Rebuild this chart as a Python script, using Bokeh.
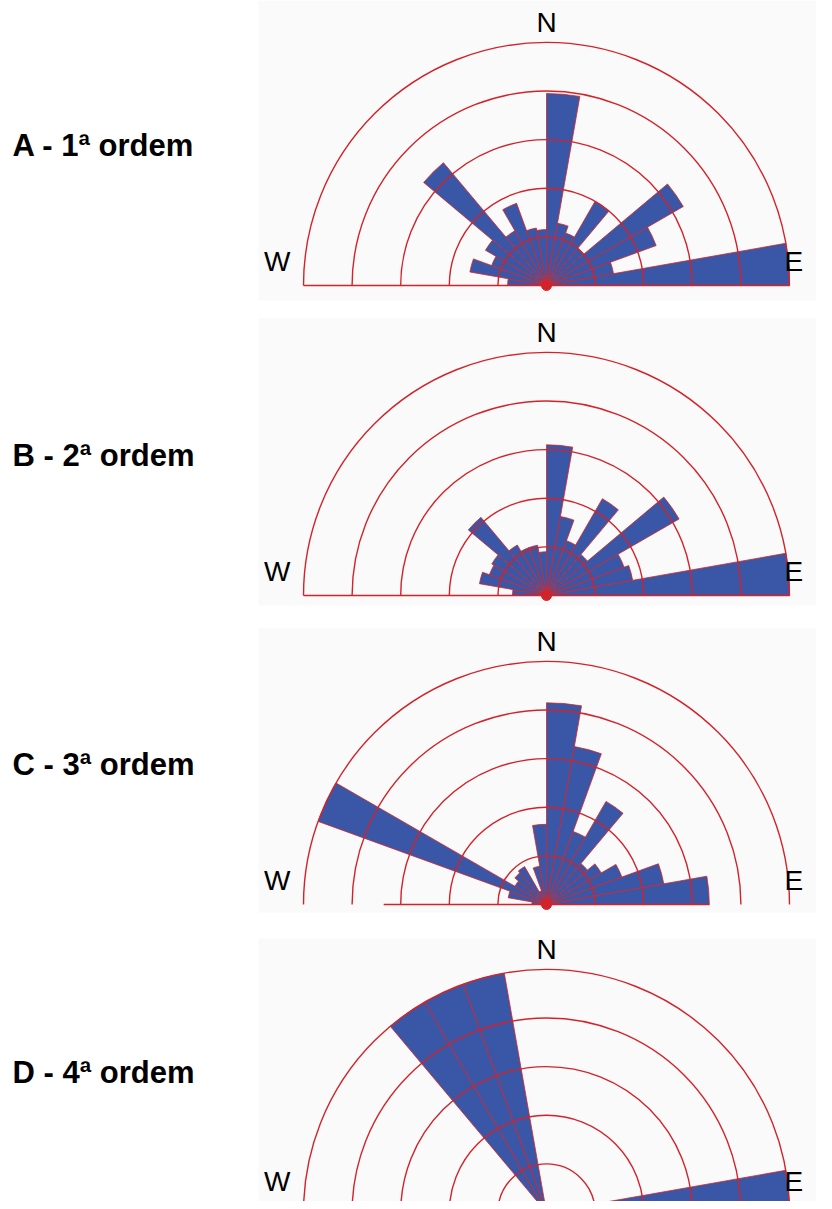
import math
from bokeh.plotting import figure
from bokeh.models import ColumnDataSource, Range1d
from bokeh.core.properties import value
from bokeh.embed import file_html
from bokeh.resources import INLINE

# ---------------- data ----------------
# azimuth bin starts (degrees clockwise from N), 10-degree bins, W -> N -> E
bin_start = [270, 280, 290, 300, 310, 320, 330, 340, 350, 0, 10, 20, 30, 40, 50, 60, 70, 80]
bin_width = 10

panel_titles = ["A - 1ª ordem", "B - 2ª ordem", "C - 3ª ordem", "D - 4ª ordem"]

freq_a = [0.8, 1.6, 1.2, 1.45, 3.3, 1.3, 1.8, 1.2, 1.15, 3.95, 1.3, 1.15, 2.0, 1.0, 3.25, 2.4, 1.4, 5.0]
freq_b = [0.7, 1.4, 1.25, 1.3, 2.1, 1.2, 1.05, 1.05, 0.9, 3.1, 1.65, 1.2, 2.3, 1.1, 3.15, 1.7, 1.8, 5.0]
freq_c = [0.3, 0.8, 5.0, 0.75, 0.85, 0.9, 0.3, 0.8, 1.65, 4.15, 3.3, 1.6, 2.45, 1.1, 1.3, 1.65, 2.45, 3.35]
freq_d = [0, 0, 0, 0, 0, 5.0, 5.0, 5.0, 0, 0, 0, 0, 0, 0, 0, 0, 0, 5.0]
freqs = [freq_a, freq_b, freq_c, freq_d]

ring_levels = [1, 2, 3, 4, 5]
ring_max = 5
compass_labels = ["N", "W", "E"]

# ---------------- layout ----------------
W_PX, H_PX = 816, 1201
PAGE_H = 1209
cx = 546
centers_screen_y = [285, 595, 904, 1212]
R = 243.0
unit = R / ring_max

BLUE = "#3A56A6"
RED = "#D2232A"
FONT = "Liberation Sans"

def ydat(sy):
    return PAGE_H - sy

p = figure(width=W_PX, height=H_PX, output_backend="svg", toolbar_location=None,
           x_range=Range1d(0, W_PX), y_range=Range1d(PAGE_H - H_PX, PAGE_H),
           min_border=0, background_fill_color="white", border_fill_color="white")
p.axis.visible = False
p.grid.visible = False
p.outline_line_color = None

# faint panel backgrounds
bg_tops = [0, 318, 628, 938]
bg_bots = [300, 605, 912, 1209]
p.quad(left=[258] * 4, right=[832] * 4,
       top=[ydat(t) for t in bg_tops], bottom=[ydat(b) for b in bg_bots],
       fill_color="#FAFAFA", line_color=None)

for k, (freq, sy) in enumerate(zip(freqs, centers_screen_y)):
    cy = ydat(sy)
    xs, ys, rs, sa, ea = [], [], [], [], []
    for az, v in zip(bin_start, freq):
        if v <= 0:
            continue
        xs.append(cx)
        ys.append(cy)
        rs.append(v * unit)
        sa.append(math.radians(90 - az - bin_width))
        ea.append(math.radians(90 - az))
    src = ColumnDataSource(dict(x=xs, y=ys, r=rs, sa=sa, ea=ea))
    p.wedge(x="x", y="y", radius="r", start_angle="sa", end_angle="ea", source=src,
            fill_color=BLUE, line_color=RED, line_width=0.8)

    # baseline (mirror of the E bin)
    L = freq[-1] * unit
    p.segment(x0=[cx - L], y0=[cy], x1=[cx + L], y1=[cy], line_color=RED, line_width=1.3)

    # rings
    p.arc(x=[cx] * len(ring_levels), y=[cy] * len(ring_levels),
          radius=[lv * unit for lv in ring_levels],
          start_angle=0, end_angle=math.pi, line_color=RED, line_width=1.4)

    # center blob
    p.scatter(x=[cx], y=[cy], size=10, color=RED)

    # compass letters
    we_y = max(cy + 24, ydat(1181))
    p.text(x=[cx], y=[cy + 263], text=[compass_labels[0]], text_align="center",
           text_baseline="middle", text_font=value(FONT), text_font_size="28px", text_color="black")
    p.text(x=[cx - 256], y=[we_y], text=[compass_labels[1]], text_align="right",
           text_baseline="middle", text_font=value(FONT), text_font_size="28px", text_color="black")
    p.text(x=[cx + 238], y=[we_y], text=[compass_labels[2]], text_align="left",
           text_baseline="middle", text_font=value(FONT), text_font_size="28px", text_color="black")

    # panel title
    p.text(x=[12], y=[cy + 140], text=[panel_titles[k]], text_align="left",
           text_baseline="middle", text_font=value(FONT), text_font_size="31px",
           text_font_style="bold", text_color="black")

open("out.html", "w").write(file_html(p, INLINE))
